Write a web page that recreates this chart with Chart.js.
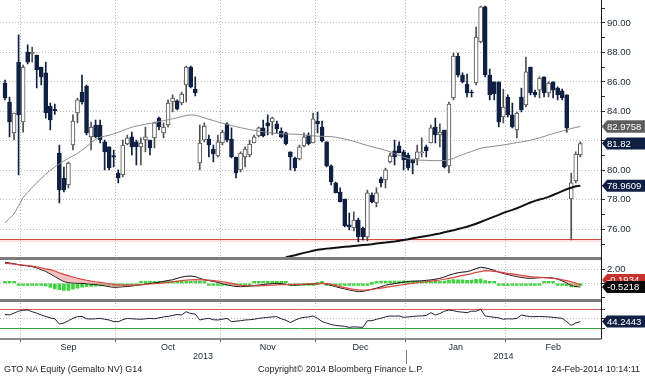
<!DOCTYPE html>
<html><head><meta charset="utf-8">
<script src="https://cdn.jsdelivr.net/npm/chart.js@4.4.1/dist/chart.umd.min.js"></script>
<style>
html,body{margin:0;padding:0;background:#fff;}
#wrap{position:relative;width:645px;height:376px;overflow:hidden;}
#c{position:absolute;left:0;top:0;}
.ft{position:absolute;top:363px;font:9px "Liberation Sans",Arial,sans-serif;color:#222;white-space:nowrap;line-height:12px;}
</style></head><body>
<div id="wrap"><canvas id="c" width="645" height="376"></canvas>
<div class="ft" style="left:4px">GTO NA Equity (Gemalto NV) G14</div>
<div class="ft" style="left:258px">Copyright© 2014 Bloomberg Finance L.P.</div>
<div class="ft" style="right:5px">24-Feb-2014 10:14:11</div>
</div>
<script>
// ---- data (daily candles, 26-Aug-2013 .. 24-Feb-2014, one entry per trading day) ----
const candleOpen = [85.93,84.64,82.54,87.35,83.28,88.03,87.90,87.83,87.01,86.61,
84.37,84.15,81.18,79.48,79.01,81.72,83.89,85.32,85.72,82.27,
83.08,83.08,81.93,81.59,81.00,79.82,79.69,81.79,82.27,81.93,
81.59,82.06,82.06,82.20,83.55,82.54,83.08,84.64,84.71,84.57,
85.79,87.01,85.52,80.50,82.06,82.13,81.45,80.98,81.86,83.15,
82.13,80.91,80.03,80.91,81.04,81.86,82.33,82.88,83.22,83.28,
83.15,82.67,82.54,81.25,80.84,80.77,81.66,82.40,81.86,83.35,
82.94,81.93,80.30,79.15,78.53,78.06,76.30,76.09,76.63,76.09,
75.48,78.33,77.79,79.42,79.35,80.57,81.32,81.66,81.25,81.04,
80.77,80.77,81.18,81.59,81.86,82.94,82.40,82.74,80.30,84.91,
87.76,86.47,85.86,85.32,85.93,88.71,91.09,86.47,86.00,86.00,
83.62,84.98,83.76,82.74,84.98,84.44,87.01,85.32,85.45,86.34,
85.25,86.00,85.59,85.39,85.12,78.06,79.28,81.04];
const candleHigh = [86.13,84.98,83.89,89.19,87.15,88.51,88.37,87.83,87.01,87.35,
84.57,84.50,81.72,80.23,80.57,83.76,84.91,86.47,85.79,83.28,
83.42,83.42,82.06,81.59,81.38,80.03,82.06,82.40,82.60,82.06,
82.20,82.94,82.06,83.28,83.62,83.22,84.78,85.12,84.78,85.32,
87.08,87.08,86.34,83.08,83.22,82.40,81.72,82.40,82.74,83.22,
82.88,80.91,81.25,81.59,82.06,82.40,82.94,83.42,83.76,83.62,
83.35,82.88,82.60,81.25,80.91,81.72,82.54,82.54,83.89,83.96,
83.35,81.93,80.37,79.21,78.81,78.06,77.11,77.18,76.77,76.16,
78.67,78.47,78.81,79.55,80.16,81.18,82.06,81.93,81.38,81.18,
80.77,81.72,82.20,81.72,83.08,83.55,83.15,82.74,84.64,87.96,
87.96,86.61,86.54,85.45,89.73,91.15,91.15,86.88,86.00,86.00,
85.52,85.12,84.57,83.96,85.59,87.69,87.01,85.45,86.34,86.34,
86.00,86.00,85.66,85.52,85.12,79.82,81.25,81.93];
const candleLow = [84.78,82.27,82.06,79.69,82.60,87.22,87.35,85.59,85.79,83.55,
82.74,83.80,77.79,78.53,78.81,81.38,83.22,84.50,82.40,81.38,
82.20,81.86,80.03,80.03,80.23,79.15,79.55,81.72,81.04,80.37,
80.37,81.25,81.04,81.52,82.74,82.20,82.94,83.96,84.10,84.44,
84.64,85.60,85.05,80.03,81.93,80.91,80.57,80.91,81.72,81.93,
80.84,79.48,79.89,80.23,80.91,81.86,82.27,82.27,82.40,82.40,
82.54,82.20,81.72,80.03,79.96,80.71,81.59,81.72,81.86,82.54,
81.93,80.23,79.01,78.47,77.86,76.16,75.96,75.89,75.14,75.28,
75.21,77.79,77.52,78.87,78.81,80.50,80.37,81.18,80.03,80.03,
79.76,80.37,80.91,80.91,81.86,81.86,81.59,80.16,79.82,84.78,
86.34,85.93,84.98,84.98,85.79,88.64,86.34,84.78,84.78,82.94,
83.22,83.62,82.88,82.20,83.96,84.30,85.12,84.98,84.91,84.98,
84.98,84.91,84.78,84.78,82.60,75.28,79.15,80.91];
const candleClose = [84.91,83.28,83.89,83.76,87.01,87.35,88.03,86.81,86.34,83.89,
83.42,84.05,78.67,78.67,80.50,83.35,84.78,84.64,82.54,82.94,
82.27,82.06,81.25,80.16,80.90,79.48,81.72,82.20,81.59,81.59,
81.86,82.27,81.52,83.22,82.94,82.94,84.57,84.91,84.17,85.18,
87.01,85.66,85.25,81.86,83.01,81.72,81.11,81.93,82.60,82.06,
80.91,79.82,81.18,81.45,81.79,82.27,82.88,82.33,83.01,83.55,
82.81,82.27,81.79,80.91,80.16,81.59,82.27,81.79,83.49,83.15,
81.99,80.30,79.21,78.47,77.86,76.23,76.16,76.63,75.48,75.48,
78.47,77.86,78.47,79.15,80.03,80.98,80.91,81.18,80.71,80.16,
80.50,81.25,81.25,81.32,82.88,82.40,82.60,80.23,84.50,87.76,
86.47,86.00,85.25,85.25,89.05,91.09,86.47,85.12,85.18,83.28,
84.30,83.76,82.94,83.89,84.10,86.68,85.25,85.12,86.27,85.25,
85.93,85.45,85.12,84.91,82.88,79.15,81.11,81.82];
// 50-day moving average (thin grey)
const maFast = [76.45,76.75,77.05,77.6,78.15,78.5,78.85,79.15,79.45,79.75,
80.0,80.23,80.45,80.65,80.82,80.98,81.15,81.38,81.6,81.88,
82.1,82.25,82.32,82.38,82.48,82.58,82.7,82.82,82.93,83.0,
83.07,83.13,83.19,83.25,83.31,83.37,83.43,83.5,83.57,83.65,
83.72,83.76,83.74,83.66,83.56,83.47,83.38,83.28,83.2,83.12,
83.04,82.97,82.9,82.83,82.77,82.72,82.67,82.62,82.57,82.53,
82.5,82.48,82.47,82.46,82.45,82.44,82.41,82.37,82.34,82.32,
82.31,82.3,82.29,82.25,82.19,82.12,82.05,81.97,81.88,81.78,
81.69,81.6,81.52,81.45,81.36,81.27,81.14,81.02,80.9,80.8,
80.72,80.7,80.69,80.68,80.67,80.66,80.66,80.67,80.72,80.82,
80.95,81.07,81.18,81.28,81.4,81.5,81.56,81.6,81.64,81.68,
81.72,81.77,81.83,81.88,81.93,81.98,82.04,82.12,82.21,82.3,
82.4,82.49,82.58,82.67,82.75,82.84,82.92,82.9758];
// 200-day moving average (thick black) - enters the visible range at day 62
const maSlowFirstDay = 62;
const maSlowValues = [74.10,74.17,74.24,74.32,74.4,74.47,74.54,74.61,74.65,74.69,
74.72,74.75,74.78,74.81,74.84,74.87,74.9,74.93,74.96,74.99,
75.03,75.07,75.1,75.14,75.18,75.23,75.28,75.33,75.39,75.44,
75.5,75.55,75.6,75.66,75.72,75.8,75.87,75.93,76.02,76.1,
76.18,76.28,76.38,76.5,76.62,76.74,76.86,76.98,77.12,77.22,
77.32,77.43,77.56,77.69,77.82,77.93,78.02,78.1,78.2,78.33,
78.46,78.59,78.72,78.82,78.92,78.9609];
const supportLevel = 75.33;
// MACD panel
const macdLine = [3.0,2.9,2.8,2.65,2.55,2.48,2.38,2.2,1.95,1.7,
1.35,0.95,0.6,0.25,0.1,0.05,0.02,0.0,-0.05,-0.12,
-0.18,-0.24,-0.35,-0.48,-0.57,-0.55,-0.5,-0.45,-0.38,-0.3,
-0.2,-0.1,-0.02,0.05,0.15,0.28,0.4,0.5,0.7,0.9,
1.0,1.04,0.95,0.7,0.5,0.38,0.28,0.12,-0.05,-0.2,
-0.35,-0.45,-0.48,-0.45,-0.4,-0.32,-0.25,-0.18,-0.1,-0.04,
0.0,-0.05,-0.15,-0.24,-0.26,-0.22,-0.17,-0.12,-0.1,-0.05,
0.0,-0.12,-0.3,-0.48,-0.65,-0.8,-0.95,-1.08,-1.2,-1.15,
-1.0,-0.86,-0.7,-0.5,-0.28,-0.15,-0.05,0.05,0.18,0.25,
0.3,0.33,0.36,0.42,0.48,0.58,0.71,0.9,1.15,1.35,
1.5,1.6,1.66,1.85,2.1,2.29,2.2,2.05,1.85,1.6,
1.4,1.25,1.1,0.95,0.85,0.75,0.72,0.75,0.8,0.82,
0.8,0.75,0.6,0.35,0.05,-0.3,-0.45,-0.5218];
const signalLine = [2.86,2.8,2.74,2.67,2.6,2.54,2.46,2.36,2.22,2.06,
1.95,1.75,1.5,1.28,1.1,0.9,0.72,0.56,0.44,0.32,
0.22,0.14,0.04,-0.06,-0.15,-0.22,-0.25,-0.27,-0.27,-0.25,
-0.22,-0.16,-0.1,-0.04,0.0,0.07,0.14,0.2,0.3,0.38,
0.45,0.5,0.52,0.5,0.48,0.44,0.38,0.3,0.22,0.12,
0.0,-0.15,-0.28,-0.34,-0.37,-0.38,-0.38,-0.34,-0.3,-0.25,
-0.22,-0.19,-0.18,-0.17,-0.16,-0.14,-0.12,-0.1,-0.08,-0.05,
-0.02,-0.05,-0.15,-0.3,-0.48,-0.62,-0.75,-0.85,-0.95,-0.96,
-0.93,-0.86,-0.78,-0.68,-0.58,-0.48,-0.38,-0.28,-0.18,-0.08,
0.0,0.08,0.15,0.22,0.3,0.38,0.47,0.58,0.7,0.82,
1.0,1.12,1.25,1.38,1.55,1.68,1.8,1.78,1.7,1.62,
1.52,1.42,1.35,1.25,1.15,1.05,0.95,0.9,0.85,0.8,
0.76,0.71,0.62,0.5,0.38,0.22,0.05,-0.1934];
const macdHist = [0.14,0.1,0.06,-0.02,-0.05,-0.06,-0.08,-0.16,-0.27,-0.36,
-0.6,-0.8,-0.9,-1.03,-1.0,-0.85,-0.7,-0.56,-0.49,-0.44,
-0.4,-0.38,-0.39,-0.42,-0.42,-0.33,-0.25,-0.18,-0.11,-0.05,
0.02,0.05,0.06,0.07,0.1,0.12,0.15,0.18,0.2,0.25,
0.28,0.28,0.22,0.1,0.02,-0.06,-0.1,-0.18,-0.27,-0.32,
-0.35,-0.3,-0.2,-0.11,-0.03,0.06,0.13,0.16,0.2,0.21,
0.22,0.14,0.03,-0.07,-0.1,-0.08,-0.05,-0.02,-0.02,0.0,
0.02,-0.07,-0.15,-0.18,-0.17,-0.18,-0.2,-0.23,-0.25,-0.19,
-0.07,0.0,0.08,0.18,0.3,0.33,0.33,0.33,0.36,0.33,
0.3,0.25,0.21,0.2,0.18,0.2,0.24,0.32,0.45,0.53,
0.5,0.48,0.41,0.47,0.55,0.61,0.4,0.27,0.15,-0.02,
-0.12,-0.17,-0.25,-0.3,-0.3,-0.3,-0.23,-0.15,-0.05,0.02,
0.04,0.04,-0.02,-0.15,-0.33,-0.52,-0.5,-0.33];
// RSI panel
const rsi = [59,58,62,66,68,68.5,65,62,58,55,
52,50,39,41,46,51,54.5,55,50,49.6,
50,51,49,47.5,44,44,48,51,50,49.5,
49,50,51,50,52,54,55,57,59,58,
65,61,60,47.5,49.6,51,48,47.5,49,51,
44,45,46,47.5,48,49,51,52,53,54,
54.5,50,47,42,47,51,53,54,56,51,
44,41,38,36,35,34,32,33,32.5,32,
46,46,49,51,54,56,55.5,56,53,54,
55,55.9,56,57,62.9,58,61,66,68.5,67,
65,64,63,66,66,70,56,54.5,53,52,
49,50,49.6,51,58,56,54.5,54.5,55,54.5,
54,53,52,51,44,36,41,44.2443];
const rsiUpper = 70, rsiLower = 30;
// axis labelling
const months = ['Sep','Oct','Nov','Dec','Jan','Feb'];
const monthStart = [3.5, 24.5, 47.5, 68.5, 88.5, 110.5]; // day-index boundaries
const years = ['2013','2014'];
const yearBoundary = 88.5;
const priceTicks = [75,76,77,78,79,80,81,82,83,84,85,86,87,88,89,90,91];
const macdTicks = [-2, 0, 2];
const rsiTicks = [30, 50, 70];

// ---- chart ----
const FONT = '"Liberation Sans", Arial, sans-serif';
const TEXT = '#1c2533';
const NAVY = '#0f2042';
const HOLLOW = '#505050';
const X_MIN = -1.104, X_MAX = 131.57;
const dayIndex = candleOpen.map((_, i) => i);
const isDown = dayIndex.map(i => candleClose[i] < candleOpen[i]);
const maSlow = dayIndex.map(i => i < maSlowFirstDay ? null : maSlowValues[i - maSlowFirstDay]);
const monthMid = monthStart.map((s, i) => (s + (i + 1 < monthStart.length ? monthStart[i + 1] : X_MAX)) / 2);
const last = candleClose.length - 1;

function hline(ctx, x1, x2, y, color, w) {
  ctx.strokeStyle = color; ctx.lineWidth = w; ctx.beginPath();
  const yy = Math.round(y) + 0.5; ctx.moveTo(x1, yy); ctx.lineTo(x2, yy); ctx.stroke();
}
function badge(ctx, x0, yc, text, bg, edge) {
  const h = 12, w = 645 - x0;
  ctx.beginPath();
  ctx.moveTo(x0, yc); ctx.lineTo(x0 + 5, yc - h / 2); ctx.lineTo(x0 + w, yc - h / 2);
  ctx.lineTo(x0 + w, yc + h / 2); ctx.lineTo(x0 + 5, yc + h / 2); ctx.closePath();
  ctx.fillStyle = bg; ctx.fill();
  if (edge) { ctx.strokeStyle = edge; ctx.lineWidth = 1; ctx.stroke(); }
  ctx.fillStyle = '#fff'; ctx.font = '9.5px ' + FONT;
  ctx.textAlign = 'left'; ctx.textBaseline = 'middle';
  ctx.fillText(text, x0 + 5, yc + 0.5);
}
function noPad(s) { s.paddingTop = 0; s.paddingBottom = 0; s.paddingLeft = 0; s.paddingRight = 0; }

const panels = {
  id: 'panels',
  beforeDatasetsDraw(chart) {
    const {ctx, chartArea: a} = chart;
    const y = chart.scales.y, yr = chart.scales.yr;
    ctx.save();
    const ys = y.getPixelForValue(supportLevel);
    ctx.fillStyle = 'rgba(236,150,150,0.25)';
    ctx.fillRect(a.left, Math.round(ys), a.right - a.left, 3);
    hline(ctx, a.left, a.right, ys, '#d64a46', 1);
    hline(ctx, a.left, a.right, yr.getPixelForValue(rsiUpper), '#e05a5a', 1);
    hline(ctx, a.left, a.right, yr.getPixelForValue(rsiLower), '#34a834', 1);
    ctx.restore();
  },
  afterDraw(chart) {
    const {ctx, chartArea: a} = chart;
    const {x, y, ym, yr} = chart.scales;
    ctx.save();
    ctx.fillStyle = '#7b7b7b';
    ctx.fillRect(a.left, Math.round(y.bottom) - 2, a.right - a.left, 3);
    ctx.fillRect(a.left, Math.round(ym.bottom) - 2, a.right - a.left, 3);
    ctx.fillStyle = '#8c8c8c';
    ctx.fillRect(a.left, a.bottom - 1, a.right - a.left, 2);
    ctx.fillStyle = '#1a1a1a';
    ctx.fillRect(Math.round(a.right), a.top, 1, a.bottom - a.top);
    // years
    const jx = x.getPixelForValue(yearBoundary);
    ctx.font = '9px ' + FONT; ctx.fillStyle = TEXT; ctx.textAlign = 'center'; ctx.textBaseline = 'middle';
    ctx.fillText(years[0], (a.left + jx) / 2, 357);
    ctx.fillText(years[1], (jx + a.right) / 2, 357);
    ctx.fillStyle = '#808080'; ctx.fillRect(Math.round(jx), 350, 1, 14);
    // value badges
    const bx = Math.round(a.right) + 1;
    badge(ctx, bx, y.getPixelForValue(maFast[last]), maFast[last].toFixed(4), '#5c5c5c', '#8a8a8a');
    badge(ctx, bx, y.getPixelForValue(candleClose[last]), candleClose[last].toFixed(2), NAVY, null);
    badge(ctx, bx, y.getPixelForValue(maSlow[last]), maSlow[last].toFixed(4), NAVY, null);
    let yM = ym.getPixelForValue(macdLine[last]);
    let yS = ym.getPixelForValue(signalLine[last]);
    if (Math.abs(yS - yM) < 7) yS = yM - 7;
    badge(ctx, bx, yS, signalLine[last].toFixed(4), '#c8322c', null);
    badge(ctx, bx, yM, macdLine[last].toFixed(4), '#0a0a0a', null);
    badge(ctx, bx, yr.getPixelForValue(rsi[last]), rsi[last].toFixed(4), NAVY, null);
    ctx.restore();
  }
};

const dotted = {display: false, dash: [1, 2]};
new Chart(document.getElementById('c'), {
  type: 'line',
  data: {
    labels: dayIndex,
    datasets: [
      {type: 'bar', label: 'wick', data: dayIndex.map(i => [candleLow[i], candleHigh[i]]),
       backgroundColor: isDown.map(d => d ? NAVY : HOLLOW), borderWidth: 0,
       barThickness: 1, grouped: false, order: 10, yAxisID: 'y'},
      {type: 'bar', label: 'body', data: dayIndex.map(i => [Math.min(candleOpen[i], candleClose[i]), Math.max(candleOpen[i], candleClose[i])]),
       backgroundColor: isDown.map(d => d ? NAVY : '#ffffff'), borderColor: isDown.map(d => d ? NAVY : HOLLOW),
       borderWidth: 1, borderSkipped: false, barThickness: 4, grouped: false, minBarLength: 1, order: 9, yAxisID: 'y'},
      {type: 'line', label: 'MA50', data: maFast, borderColor: '#8a8a8a', borderWidth: 1, pointRadius: 0, order: 5, yAxisID: 'y'},
      {type: 'line', label: 'MA200', data: maSlow, borderColor: '#111111', borderWidth: 2, pointRadius: 0, order: 4, yAxisID: 'y'},
      {type: 'bar', label: 'Hist', data: macdHist, backgroundColor: '#3fd43f', barThickness: 3, grouped: false, minBarLength: 2, order: 8, yAxisID: 'ym'},
      {type: 'line', label: 'MACD', data: macdLine, borderColor: '#000000', borderWidth: 1, pointRadius: 0, order: 3, yAxisID: 'ym'},
      {type: 'line', label: 'Signal', data: signalLine, borderColor: '#d8453f', borderWidth: 1.2, pointRadius: 0, order: 2, yAxisID: 'ym',
       fill: {target: 5, above: 'rgba(242,150,150,0.6)', below: 'rgba(0,0,0,0)'}},
      {type: 'line', label: 'RSI', data: rsi, borderColor: '#1b2238', borderWidth: 1, pointRadius: 0, order: 1, yAxisID: 'yr'}
    ]
  },
  options: {
    responsive: false, animation: false, devicePixelRatio: 1,
    layout: {padding: 0},
    plugins: {legend: {display: false}, tooltip: {enabled: false}},
    elements: {line: {tension: 0}},
    scales: {
      x: {type: 'linear', position: 'bottom', min: X_MIN, max: X_MAX, offset: false,
        afterBuildTicks: s => {
          const t = monthStart.map(v => ({value: v, kind: 'b'}))
            .concat(monthMid.map((v, i) => ({value: v, kind: 'c', name: months[i]})));
          t.sort((p, q) => p.value - q.value);
          s.ticks = t;
        },
        afterFit: s => { s.height = 37; noPad(s); },
        ticks: {autoSkip: false, maxRotation: 0, minRotation: 0, padding: 0, color: TEXT, font: {size: 9, family: FONT},
          callback: (v, i, t) => t[i] && t[i].kind === 'c' ? t[i].name : ''},
        grid: {offset: false, color: c => (c.tick && c.tick.kind === 'b') ? '#b8b8b8' : 'rgba(0,0,0,0)',
          tickColor: c => (c.tick && c.tick.kind === 'b') ? '#555' : 'rgba(0,0,0,0)', tickLength: 3},
        border: dotted
      },
      y: {type: 'linear', position: 'right', stack: 'panels', stackWeight: 258.5, min: 74.02, max: 91.56,
        afterBuildTicks: s => { s.ticks = priceTicks.map(v => ({value: v})); },
        afterFit: s => { s.width = 44; noPad(s); },
        ticks: {autoSkip: false, padding: 2, color: TEXT, font: {size: 9.5, family: FONT},
          callback: v => v % 2 === 0 ? v.toFixed(2) : ''},
        grid: {color: c => (c.tick && c.tick.value % 2 === 0) ? '#bdbdbd' : 'rgba(0,0,0,0)', tickColor: '#333', tickLength: 4},
        border: dotted
      },
      ym: {type: 'linear', position: 'right', stack: 'panels', stackWeight: 42.5, min: -2.529, max: 3.543,
        afterBuildTicks: s => { s.ticks = macdTicks.map(v => ({value: v})); },
        afterFit: s => { s.width = 44; noPad(s); },
        ticks: {autoSkip: false, padding: 2, color: TEXT, font: {size: 9.5, family: FONT},
          callback: v => v === 2 ? v.toFixed(2) : ''},
        grid: {color: c => (c.tick && c.tick.value >= 0) ? '#bdbdbd' : 'rgba(0,0,0,0)', tickColor: '#333', tickLength: 4},
        border: dotted
      },
      yr: {type: 'linear', position: 'right', stack: 'panels', stackWeight: 38, min: 7.47, max: 87.47,
        afterBuildTicks: s => { s.ticks = rsiTicks.map(v => ({value: v})); },
        afterFit: s => { s.width = 44; noPad(s); },
        ticks: {autoSkip: false, padding: 2, color: TEXT, font: {size: 9.5, family: FONT}, callback: () => ''},
        grid: {color: c => (c.tick && c.tick.value === 50) ? '#bdbdbd' : 'rgba(0,0,0,0)', tickColor: '#333', tickLength: 4},
        border: dotted
      }
    }
  },
  plugins: [panels]
});
</script>
</body></html>
